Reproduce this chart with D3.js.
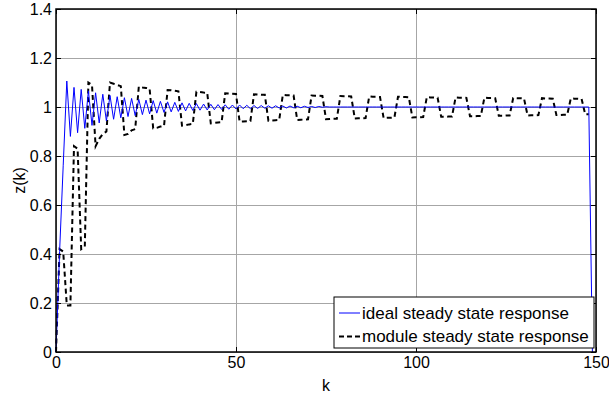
<!DOCTYPE html>
<html>
<head>
<meta charset="utf-8">
<script src="https://cdn.jsdelivr.net/npm/d3@7"></script>
<style>
  html, body { margin: 0; padding: 0; background: #fff; }
  svg { display: block; font-family: "Liberation Sans", Arial, sans-serif; }
</style>
</head>
<body>
<div id="chart"></div>
<script>
// z(k), one value per sample k = 0, 1, 2, ...
const idealResponse = [
  0, 0.41, 0.76, 1.106, 0.88, 1.08, 0.895, 1.072, 0.913, 1.066,
  0.925, 1.058, 0.935, 1.052, 0.943, 1.047, 0.950, 1.042, 0.956, 1.038,
  0.961, 1.035, 0.965, 1.031, 0.969, 1.028, 0.972, 1.026, 0.975, 1.023,
  0.978, 1.021, 0.980, 1.019, 0.982, 1.017, 0.984, 1.015, 0.986, 1.014,
  0.987, 1.012, 0.988, 1.011, 0.989, 1.010, 0.990, 1.009, 0.991, 1.008,
  0.992, 1.008, 0.993, 1.007, 0.993, 1.006, 0.994, 1.006, 0.995, 1.005,
  0.995, 1.005, 0.996, 1.004, 0.996, 1.004, 0.997, 1.003, 0.997, 1.003,
  0.998, 1.002, 0.998, 1.002, 0.999, 1.001, 1, 1, 1, 1,
  1, 1, 1, 1, 1, 1, 1, 1, 1, 1,
  1, 1, 1, 1, 1, 1, 1, 1, 1, 1,
  1, 1, 1, 1, 1, 1, 1, 1, 1, 1,
  1, 1, 1, 1, 1, 1, 1, 1, 1, 1,
  1, 1, 1, 1, 1, 1, 1, 1, 1, 1,
  1, 1, 1, 1, 1, 1, 1, 1, 1, 1,
  1, 1, 1, 1, 1, 1, 1, 1, 1, 0
];

const moduleResponse = [
  0, 0.42, 0.41, 0.19, 0.19, 0.84, 0.83, 0.42, 0.43, 1.10,
  1.09, 0.84, 0.87, 0.89, 0.90, 1.10, 1.095, 1.09, 1.085, 0.886,
  0.89, 0.905, 0.91, 1.083, 1.08, 1.078, 1.075, 0.913, 0.915, 0.92,
  0.922, 1.069, 1.068, 1.066, 1.064, 0.924, 0.926, 0.929, 0.931, 1.062,
  1.061, 1.059, 1.058, 0.933, 0.935, 0.937, 0.938, 1.056, 1.055, 1.054,
  1.053, 0.940, 0.941, 0.942, 0.943, 1.052, 1.051, 1.050, 1.050, 0.944,
  0.945, 0.946, 0.947, 1.049, 1.048, 1.048, 1.047, 0.947, 0.948, 0.949,
  0.950, 1.047, 1.046, 1.046, 1.045, 0.950, 0.951, 0.952, 0.952, 1.045,
  1.044, 1.044, 1.043, 0.953, 0.954, 0.954, 0.955, 1.043, 1.042, 1.042,
  1.041, 0.955, 0.956, 0.956, 0.957, 1.042, 1.041, 1.041, 1.040, 0.957,
  0.958, 0.958, 0.959, 1.040, 1.039, 1.039, 1.038, 0.960, 0.960, 0.961,
  0.961, 1.039, 1.038, 1.038, 1.037, 0.962, 0.962, 0.963, 0.963, 1.038,
  1.037, 1.037, 1.036, 0.964, 0.964, 0.965, 0.965, 1.037, 1.036, 1.036,
  1.035, 0.965, 0.966, 0.966, 0.967, 1.036, 1.035, 1.035, 1.034, 0.967,
  0.967, 0.968, 0.968, 1.035, 1.034, 1.034, 1.033, 0.970, 0.970
];

const seriesNames = ['ideal steady state response', 'module steady state response'];
const xTickValues = [0, 50, 100, 150];
const xTickLabels = ['0', '50', '100', '150'];
const yTickValues = [0, 0.2, 0.4, 0.6, 0.8, 1, 1.2, 1.4];
const yTickLabels = ['0', '0.2', '0.4', '0.6', '0.8', '1', '1.2', '1.4'];

const width = 609;
const height = 396;
const margin = { top: 9, right: 13, bottom: 44, left: 56 };

const svg = d3.select('#chart')
  .append('svg')
  .attr('width', width)
  .attr('height', height);

const x = d3.scaleLinear()
  .domain([0, 150])
  .range([margin.left, width - margin.right]);

const y = d3.scaleLinear()
  .domain([0, 1.4])
  .range([height - margin.bottom, margin.top]);

const plotW = width - margin.left - margin.right;
const plotH = height - margin.top - margin.bottom;

// grid
svg.append('g')
  .attr('transform', `translate(0, ${height - margin.bottom})`)
  .call(d3.axisBottom(x).tickValues(xTickValues).tickSize(-plotH).tickFormat(''))
  .call(g => g.select('.domain').remove())
  .call(g => g.selectAll('line').attr('stroke', '#a6a6a6').attr('stroke-width', 1));

svg.append('g')
  .attr('transform', `translate(${margin.left}, 0)`)
  .call(d3.axisLeft(y).tickValues(yTickValues).tickSize(-plotW).tickFormat(''))
  .call(g => g.select('.domain').remove())
  .call(g => g.selectAll('line').attr('stroke', '#a6a6a6').attr('stroke-width', 1));

// lines
const line = d3.line()
  .x((d, i) => x(i))
  .y(d => y(d));

svg.append('path')
  .datum(moduleResponse)
  .attr('fill', 'none')
  .attr('stroke', '#000')
  .attr('stroke-width', 2)
  .attr('stroke-dasharray', '5,3.5')
  .attr('d', line);

svg.append('path')
  .datum(idealResponse)
  .attr('fill', 'none')
  .attr('stroke', '#0000ff')
  .attr('stroke-width', 1)
  .attr('d', line);

// axes (ticks inside, box on)
const fmtX = d => xTickLabels[xTickValues.indexOf(d)];
const fmtY = d => yTickLabels[yTickValues.indexOf(d)];

svg.append('g')
  .attr('transform', `translate(0, ${height - margin.bottom})`)
  .call(d3.axisBottom(x).tickValues(xTickValues).tickSizeInner(-5).tickSizeOuter(0).tickPadding(5).tickFormat(fmtX))
  .call(g => g.select('.domain').remove())
  .call(g => g.selectAll('text').attr('fill', '#000').style('font-size', '16px'));

svg.append('g')
  .attr('transform', `translate(${margin.left}, 0)`)
  .call(d3.axisLeft(y).tickValues(yTickValues).tickSizeInner(-5).tickSizeOuter(0).tickPadding(4).tickFormat(fmtY))
  .call(g => g.select('.domain').remove())
  .call(g => g.selectAll('text').attr('fill', '#000').style('font-size', '16px'));

svg.append('g')
  .attr('transform', `translate(0, ${margin.top})`)
  .call(d3.axisTop(x).tickValues(xTickValues).tickSizeInner(-5).tickSizeOuter(0).tickFormat(''))
  .call(g => g.select('.domain').remove());

svg.append('g')
  .attr('transform', `translate(${width - margin.right}, 0)`)
  .call(d3.axisRight(y).tickValues(yTickValues).tickSizeInner(-5).tickSizeOuter(0).tickFormat(''))
  .call(g => g.select('.domain').remove());

svg.append('rect')
  .attr('x', margin.left)
  .attr('y', margin.top)
  .attr('width', plotW)
  .attr('height', plotH)
  .attr('fill', 'none')
  .attr('stroke', '#000')
  .attr('stroke-width', 1.5);

// axis labels
svg.append('text')
  .attr('x', (margin.left + width - margin.right) / 2)
  .attr('y', 391)
  .attr('text-anchor', 'middle')
  .style('font-size', '16px')
  .text('k');

svg.append('text')
  .attr('transform', `translate(25, ${(margin.top + height - margin.bottom) / 2}) rotate(-90)`)
  .attr('text-anchor', 'middle')
  .style('font-size', '16px')
  .text('z(k)');

// legend
const legend = svg.append('g').attr('transform', 'translate(334, 297)');

legend.append('rect')
  .attr('width', 260)
  .attr('height', 51)
  .attr('fill', '#fff')
  .attr('stroke', '#000')
  .attr('stroke-width', 1);

const legendStyles = [
  { stroke: '#0000ff', width: 1, dash: null },
  { stroke: '#000', width: 2, dash: '5,3' }
];

seriesNames.forEach((name, i) => {
  const cy = 16 + i * 23.5;
  legend.append('line')
    .attr('x1', 5)
    .attr('x2', 26)
    .attr('y1', cy)
    .attr('y2', cy)
    .attr('stroke', legendStyles[i].stroke)
    .attr('stroke-width', legendStyles[i].width)
    .attr('stroke-dasharray', legendStyles[i].dash);
  legend.append('text')
    .attr('x', 28)
    .attr('y', cy)
    .attr('dy', '0.35em')
    .style('font-size', '17px')
    .text(name);
});
</script>
</body>
</html>
